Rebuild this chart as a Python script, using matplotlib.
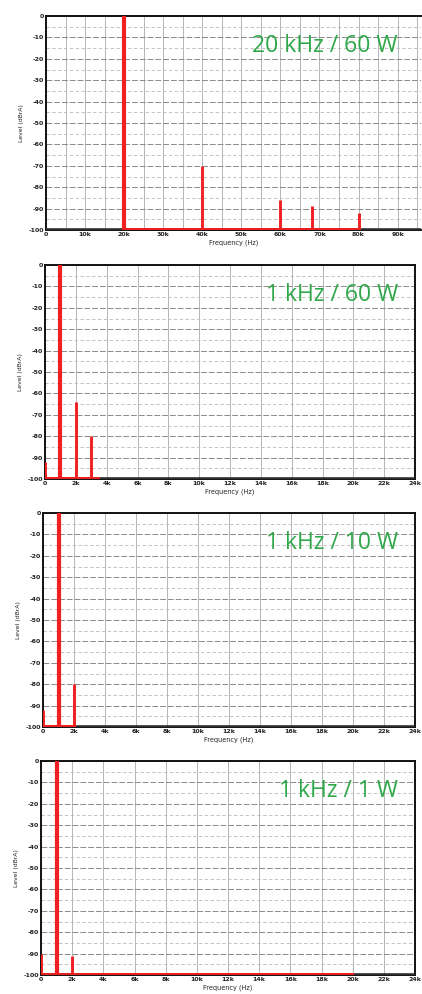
import numpy as np
import matplotlib
matplotlib.use('Agg')
import matplotlib.pyplot as plt

# spectrum data: (frequency Hz, level dBrA)
titles = ['20 kHz / 60 W', '1 kHz / 60 W', '1 kHz / 10 W', '1 kHz / 1 W']

freq_20k_60w = [20000, 40000, 60000, 68000, 80000]
level_20k_60w = [0, -70, -86, -89, -92]

freq_1k_60w = [0, 1000, 2000, 3000]
level_1k_60w = [-92, 0, -64, -80]

freq_1k_10w = [0, 1000, 2000]
level_1k_10w = [-92, 0, -80]

freq_1k_1w = [0, 1000, 2000]
level_1k_1w = [-90, 0, -91]

# extent of the red noise floor trace (Hz)
floor_end = [(20000, 80000), (0, 3500), (0, 2000), (0, 20000)]

freqs = [freq_20k_60w, freq_1k_60w, freq_1k_10w, freq_1k_1w]
levels = [level_20k_60w, level_1k_60w, level_1k_10w, level_1k_1w]

y_ticks = list(range(0, -101, -10))
x_ticks_wide = list(range(0, 90001, 10000))
x_labels_wide = ['0'] + ['%dk' % (v // 1000) for v in x_ticks_wide[1:]]
x_ticks_narrow = list(range(0, 24001, 2000))
x_labels_narrow = ['0'] + ['%dk' % (v // 1000) for v in x_ticks_narrow[1:]]

fig = plt.figure(figsize=(4.22, 9.94), dpi=100)

# axes boxes in pixels (left, top, bottom, right) of the 422x994 image
boxes = [(46, 16, 230, 421), (45, 265, 479, 415), (43, 513, 727, 415), (41, 761, 975, 415)]
W, H = 422.0, 994.0
red = '#f02020'
green = '#2fa84a'

for i in range(4):
    left, top, bot, right = boxes[i]
    ax = fig.add_axes([left / W, 1 - bot / H, (right - left) / W, (bot - top) / H])

    if i == 0:
        ax.set_xlim(0, 96000)
        ax.set_xticks(x_ticks_wide)
        ax.set_xticklabels(x_labels_wide)
        ax.set_xticks(np.arange(5000, 96000, 10000), minor=True)
    else:
        ax.set_xlim(0, 24000)
        ax.set_xticks(x_ticks_narrow)
        ax.set_xticklabels(x_labels_narrow)
    ax.set_ylim(-100, 0)
    ax.set_yticks(y_ticks)
    ax.set_yticklabels([str(v) for v in y_ticks])
    ax.set_yticks(np.arange(-95, 0, 10), minor=True)

    # grid: solid-ish vertical, dashed horizontal
    ax.grid(True, axis='x', which='both', color='#b5b5b5', lw=0.7, ls='-')
    ax.grid(True, axis='y', which='major', color='#8a8a8a', lw=0.7, ls=(0, (6, 2)))
    ax.grid(True, axis='y', which='minor', color='#b8b8b8', lw=0.6, ls=(0, (4, 3)))
    ax.set_axisbelow(True)

    # noise floor
    ax.plot([0, ax.get_xlim()[1]], [-99.6, -99.6], color='#333333', lw=1.2, zorder=3)
    a, b = floor_end[i]
    ax.plot([a, b], [-99.3, -99.3], color=red, lw=1.4, zorder=4)

    # harmonic peaks
    f = freqs[i]
    l = levels[i]
    for fv, lv in zip(f, l):
        lw = 3.0 if lv == 0 else 2.1
        ax.vlines(fv, -100, lv, color=red, lw=lw, zorder=5)

    for s in ax.spines.values():
        s.set_color('#111111')
        s.set_linewidth(1.4)
    if i == 0:
        ax.spines['right'].set_visible(False)

    ax.tick_params(which='both', length=0, pad=1.5, labelsize=4.5)
    for t in ax.get_xticklabels() + ax.get_yticklabels():
        t.set_fontweight('bold')
        t.set_color('#222222')

    ax.set_xlabel('Frequency (Hz)', fontsize=4.7, labelpad=2, color='#222222')
    ax.set_ylabel('Level (dBrA)', fontsize=4.4, labelpad=3, color='#222222')

    # title right edge at about x=398 px in every panel
    tx = (398 - left) / float(right - left)
    ax.text(tx, 0.86, titles[i], transform=ax.transAxes, ha='right', va='center',
            color=green, fontsize=16.5, family='Open Sans', zorder=6)

fig.savefig('out.png', dpi=100)
